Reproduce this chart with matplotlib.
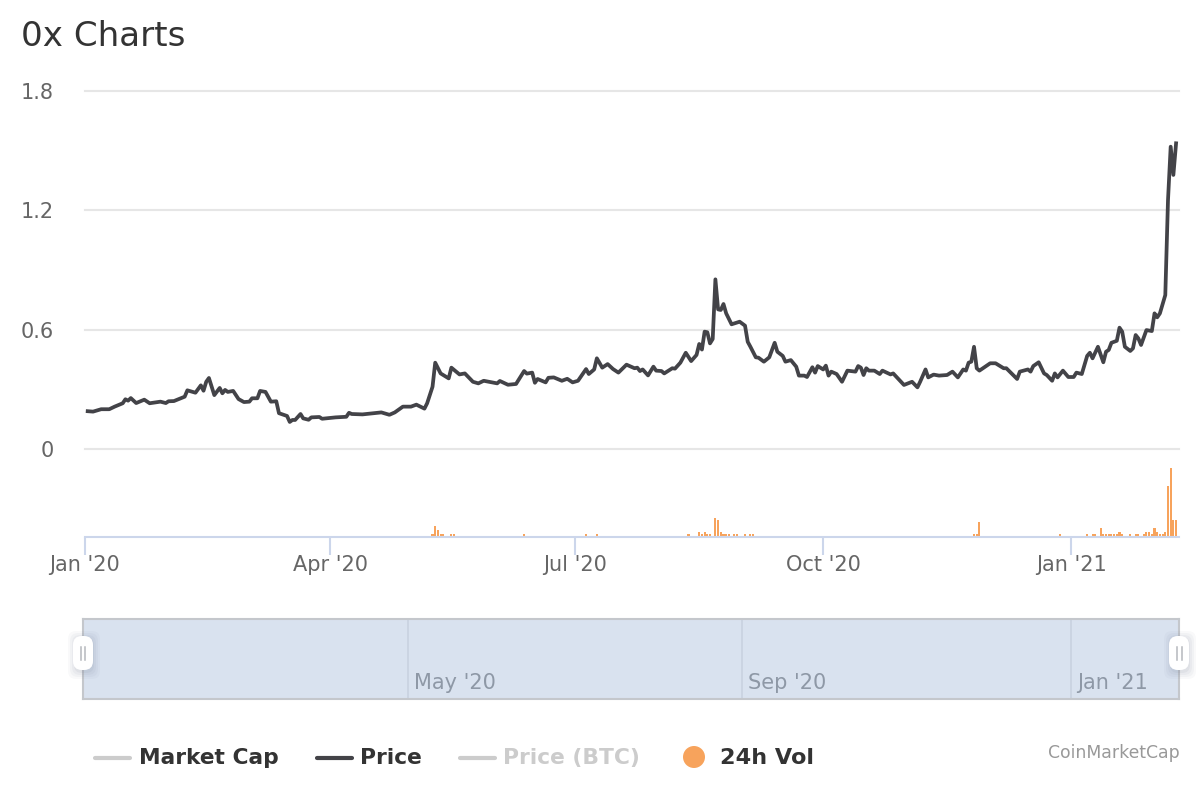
import matplotlib
matplotlib.use("Agg")
import matplotlib.pyplot as plt
from matplotlib.lines import Line2D
from matplotlib.patches import FancyBboxPatch, Circle
from matplotlib.transforms import IdentityTransform

W, H = 1200, 800

price_days = [1,3,6,9,11,14,15,16,17,19,22,24,28,30,31,33,37,38,41,43,44,45,46,48,50,51,52,53,55,57,59,61,62,64,65,67,69,71,72,75,76,77,78,80,81,83,84,87,88,93,97,98,99,103,110,113,115,118,121,123,126,127,129,130,132,135,136,139,141,144,146,
148,153,154,157,160,163,164,166,167,168,171,172,174,177,179,181,183,186,187,189,190,192,194,196,198,201,204,205,206,207,209,211,212,214,215,218,219,221,223,225,227,228,229,230,231,232,233,234,235,236,237,238,240,243,245,246,247,249,250,252,254,256,257,259,260,262,264,265,267,268,270,271,272,274,275,276,277,279,281,283,286,287,288,289,290,291,293,295,296,299,300,304,307,309,310,312,313,315,317,320,322,324,326,327,328,329,330,331,332,336,338,341,342,346,347,350,351,352,354,356,357,359,360,361,363,365,367,368,370,372,373,374,376,378,379,380,381,383,384,385,386,388,389,390,391,392,394,396,397,398,399,401,402,403,404,405]
price_vals = [.19,.188,.20,.20,.213,.23,.25,.243,.256,.231,.248,.23,.238,.231,.24,.241,.263,.295,.283,.32,.293,.338,.357,.271,.307,.28,.297,.287,.292,.251,.236,.238,.255,.255,.292,.287,.238,.24,.18,.166,.136,.146,.146,.176,.154,.147,.159,.161,.152,.159,.162,.182,.176,.174,.184,.172,.184,.213,.213,.223,.203,.23,.313,.434,.38,.355,.409,.375,.38,.338,.33,
.343,.33,.342,.323,.327,.392,.379,.384,.333,.352,.335,.358,.36,.343,.353,.335,.343,.402,.377,.40,.456,.409,.427,.402,.384,.424,.406,.409,.392,.40,.37,.414,.394,.392,.38,.406,.404,.434,.484,.442,.473,.528,.50,.59,.587,.531,.553,.853,.702,.699,.729,.682,.627,.64,.62,.539,.514,.461,.459,.439,.461,.534,.489,.468,.439,.447,.414,.369,.369,.362,.411,.384,.417,.40,.419,.369,.389,.377,.338,.394,.389,.417,.409,.372,.406,.394,.394,.377,.394,.375,.38,.322,.338,.31,.338,.40,.36,.374,.369,.372,.389,.36,.40,.394,.434,.439,.514,.406,.394,.431,.431,.406,.406,.352,.389,.40,.389,.417,.436,.38,.372,.343,.38,.36,.394,.362,.362,.384,.377,.468,.484,.456,.514,.436,.489,.498,.534,.544,.61,.59,.514,.493,.506,.573,.556,.523,.598,.593,.682,.662,.682,.774,1.25,1.52,1.378,1.537]

vol_days = [129,130,131,132,133,136,137,163,186,190,224,228,229,230,231,232,234,235,236,237,238,239,241,242,245,247,248,
            330,331,332,362,372,374,375,377,378,379,380,381,382,383,384,385,388,390,391,393,394,395,396,397,398,399,400,401,402,403,404,405]
vol_vals = [30,110,70,30,30,30,30,30,30,30,30,50,30,50,30,30,190,170,50,30,30,30,30,30,30,30,30,
            30,30,150,30,30,30,30,90,30,30,30,30,30,30,50,30,30,30,30,30,50,50,30,90,50,30,30,50,510,690,170,170]

y_ticks = [0, 0.6, 1.2, 1.8]
y_labels = ["0", "0.6", "1.2", "1.8"]
x_ticks = [0, 91, 182, 274, 366]
x_labels = ["Jan '20", "Apr '20", "Jul '20", "Oct '20", "Jan '21"]
nav_ticks = [120, 244, 366]
nav_labels = ["May '20", "Sep '20", "Jan '21"]
legend_names = ["Market Cap", "Price", "Price (BTC)", "24h Vol"]

PX_PER_DAY = 2.694
XMAX = (1179 - 85) / PX_PER_DAY

def rect(l, t, r, b):
    return [l / W, 1 - b / H, (r - l) / W, (b - t) / H]

plt.rcParams["font.family"] = ["DejaVu Sans"]
fig = plt.figure(figsize=(12, 8), dpi=100, facecolor="white")

# price pane
ax = fig.add_axes(rect(85, 91, 1179, 449))
ax.set_xlim(0, XMAX)
ax.set_ylim(0, 1.8)
ax.set_yticks(y_ticks, y_labels)
ax.set_xticks([])
ax.tick_params(axis="y", length=0, pad=22.6, labelsize=15, labelcolor="#666666")
ax.grid(axis="y", color="#e6e6e6", lw=1.5)
for gl in ax.get_ygridlines():
    gl.set_clip_on(False)
ax.set_axisbelow(True)
for s in ax.spines.values():
    s.set_visible(False)
ax.plot(price_days, price_vals, color="#434348", lw=2.7, solid_joinstyle="round", clip_on=False)

# volume pane
vx = fig.add_axes(rect(85, 449, 1179, 537))
vx.set_xlim(0, XMAX)
vx.set_ylim(0, 880)
vx.patch.set_alpha(0)
vx.bar(vol_days, vol_vals, width=0.78, color="#f7a35c", linewidth=0)
vx.set_yticks([])
vx.set_xticks(x_ticks, x_labels)
vx.tick_params(axis="x", length=13, width=1.5, color="#ccd6eb", labelsize=15,
               labelcolor="#666666", pad=0)
for k in ("top", "left", "right"):
    vx.spines[k].set_visible(False)
vx.spines["bottom"].set_color("#ccd6eb")
vx.spines["bottom"].set_linewidth(1.5)

# navigator
nav = fig.add_axes(rect(83, 619, 1179, 699))
nav.set_xlim(-2 / PX_PER_DAY, XMAX)
nav.set_ylim(0, 1)
nav.set_facecolor("#d9e2ef")
nav.set_yticks([])
nav.set_xticks([])
for s in nav.spines.values():
    s.set_color("#c4c7cc")
    s.set_linewidth(1.5)
for d, lab in zip(nav_ticks, nav_labels):
    nav.axvline(d, color="#c9d2e0", lw=1.2)
    nav.text(d + 2.2, 0.205, lab, color="#8e98a6", fontsize=15, va="center", ha="left")

def px_x(x):
    return x / W
def px_y(y):
    return 1 - y / H

ident = IdentityTransform()
# navigator handles (figure-pixel coordinates)
for cx in (83, 1179):
    for grow, a in ((7, .04), (5, .05), (3, .06), (1, .08)):
        fig.add_artist(FancyBboxPatch((cx - 9 - grow + 1, 800 - 670 - grow - 2), 18 + 2 * grow, 34 + 2 * grow,
                       boxstyle="round,pad=0,rounding_size=8", transform=ident,
                       fc="#6d7a90", ec="none", alpha=a))
    fig.add_artist(FancyBboxPatch((cx - 10, 800 - 670), 20, 34, boxstyle="round,pad=0,rounding_size=9",
                   transform=ident, fc="white", ec="none"))
    for dx in (-2.5, 2.5):
        fig.add_artist(Line2D([px_x(cx + dx)] * 2, [px_y(647), px_y(660)], color="#b5b8bd", lw=1.1))

# title
fig.text(px_x(21), px_y(37), "0x Charts", fontsize=24.6, color="#333333", va="center", ha="left")

# legend
entries = [(95, 130, 139, "#cccccc", "#333333"),
           (317, 352, 360, "#434348", "#333333"),
           (460, 495, 503, "#cccccc", "#cccccc")]
for (x0, x1, tx, lc, tc), name in zip(entries, legend_names[:3]):
    fig.add_artist(Line2D([px_x(x0), px_x(x1)], [px_y(758)] * 2, color=lc, lw=3, solid_capstyle="round"))
    fig.text(px_x(tx), px_y(758), name, fontsize=15.7, fontweight="bold", color=tc, va="center", ha="left")
fig.add_artist(Circle((694, 800 - 757), 11, transform=ident, fc="#f7a35c", ec="none"))
fig.text(px_x(720), px_y(758), legend_names[3], fontsize=16.1, fontweight="bold", color="#333333", va="center", ha="left")

fig.text(px_x(1180), px_y(753), "CoinMarketCap", fontsize=12.4, color="#999999", va="center", ha="right")

fig.savefig("out.png", dpi=100)
